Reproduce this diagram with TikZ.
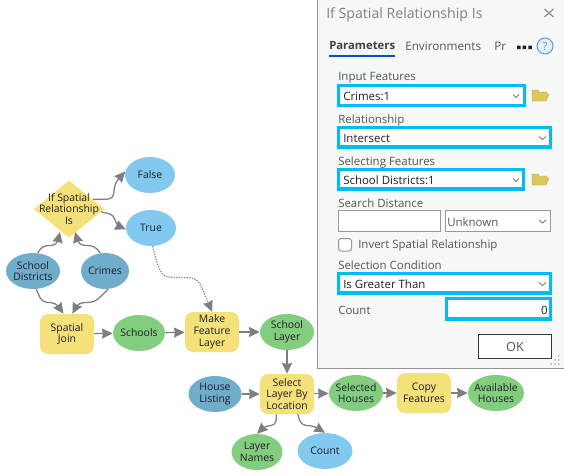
\documentclass[tikz,border=0pt]{standalone}
\usepackage{fontspec}
\setmainfont{Open Sans}
\usepackage{xcolor}
\definecolor{gptool}{RGB}{245,225,122}
\definecolor{gpgreen}{RGB}{131,205,126}
\definecolor{gpsky}{RGB}{130,201,239}
\definecolor{gpsteel}{RGB}{111,173,203}
\definecolor{gpgray}{RGB}{112,112,112}
\definecolor{gpink}{RGB}{30,30,40}
\definecolor{gppanel}{RGB}{246,247,247}
\definecolor{gpframe}{RGB}{0,188,242}
\definecolor{gplabel}{RGB}{85,85,85}
\definecolor{gpfolder}{RGB}{222,198,88}
\definecolor{gphelp}{RGB}{90,160,220}
\usetikzlibrary{arrows.meta,shapes.geometric}
\tikzset{
  modeltext/.style={font=\fontsize{7.8}{8.8}\selectfont, align=center, text=gpink},
  inlabel/.style={label={[modeltext]center:{#1}}},
  toolbox/.style={modeltext, rectangle, rounded corners=6pt, fill=gptool, inner sep=0pt, minimum width=40.5pt, minimum height=30pt},
  dataoval/.style={ellipse, inner sep=0pt, minimum width=#1*0.75pt, minimum height=27pt},
  derived/.style={dataoval=#1, fill=gpgreen},
  paramoval/.style={dataoval=#1, fill=gpsky},
  inputoval/.style={dataoval=#1, fill=gpsteel},
  link/.style={draw=gpgray!90, line width=0.95pt, rounded corners=3.5pt, -{Stealth[length=8pt,width=7.5pt,inset=0.6pt]}},
  paramlabel/.style={font=\fontsize{8.6}{11}\selectfont, text=gplabel, anchor=west, inner sep=0pt},
  paramvalue/.style={font=\fontsize{8.6}{11}\selectfont, text=gpink, anchor=west, inner sep=0pt},
  bluebox/.style={draw=gpframe, line width=2.3pt, fill=white},
  graybox/.style={draw=gray!80, line width=0.75pt, fill=white},
  chevron/.style={draw=gray, line width=0.7pt},
  folder/.style={fill=gpfolder, draw=gpfolder!85!black, line width=0.3pt}
}
\begin{document}
\begin{tikzpicture}[x=0.75pt,y=-0.75pt]
\useasboundingbox (0,0) rectangle (564,475);
% Top of the model
\node[diamond, fill=gptool, inner sep=0pt, minimum width=53pt, minimum height=43pt,
  inlabel={If Spatial\\Relationship\\Is}] (ifrel) at (69,209) {};
\node[paramoval=50, inlabel={False}] (falsenode) at (150,175) {};
\node[paramoval=50, inlabel={True}] (truenode) at (151,228) {};
\node[inputoval=54, inlabel={School\\Districts}] (districts) at (33,271) {};
\node[inputoval=48, inlabel={Crimes}] (crimes) at (105,271) {};
% Middle row
\node[toolbox] (spatjoin) at (67,334) {Spatial\\Join};
\node[derived=52, inlabel={Schools}] (schools) at (139,333) {};
\node[toolbox] (makelayer) at (212,332) {Make\\Feature\\Layer};
\node[derived=54, inlabel={School\\Layer}] (schoollayer) at (287,332) {};
% Bottom row
\node[inputoval=53, inlabel={House\\Listing}] (listing) at (215,394) {};
\node[toolbox] (selectlayer) at (287,394) {Select\\Layer By\\Location};
\node[derived=54, inlabel={Selected\\Houses}] (selected) at (356,393) {};
\node[toolbox] (copyfeat) at (424,393) {Copy\\Features};
\node[derived=56, inlabel={Available\\Houses}] (available) at (496,393) {};
\node[derived=51, inlabel={Layer\\Names}] (layernames) at (257,452) {};
\node[paramoval=55, inlabel={Count}] (countout) at (325,451) {};
% Connectors
\draw[link] (ifrel.22) -- (113,199) -- (115,183) -- (falsenode.172);
\draw[link] (ifrel.-5) -- (114,215) -- (116,225) -- (truenode.183);
\draw[link, densely dotted, line width=0.85pt, rounded corners=5pt] (truenode.-85) -- (157,263) -- (163,277) -- (197,278) -- (203,290) -- (makelayer.north);
\draw[link] (districts.75) -- (42,246) -- (57,245) -- (60,232);
\draw[link] (crimes.105) -- (95,246) -- (79,245) -- (75,232);
\draw[link] (districts.-80) -- (42,302) -- (56,303) -- (spatjoin.100);
\draw[link] (crimes.-80) -- (95,302) -- (78,303) -- (spatjoin.75);
\draw[link] (spatjoin) -- (schools);
\draw[link] (schools) -- (makelayer);
\draw[link] (makelayer) -- (schoollayer);
\draw[link] (schoollayer) -- (selectlayer);
\draw[link] (listing) -- (selectlayer);
\draw[link] (selectlayer) -- (selected);
\draw[link] (selected) -- (copyfeat);
\draw[link] (copyfeat) -- (available);
\draw[link] (selectlayer.-118) -- (276,425) -- (265,426) -- (layernames.north);
\draw[link] (selectlayer.-62) -- (301,425) -- (314,426) -- (countout.north);
% Parameter pane
\node[draw=gray!85, line width=0.75pt, fill=gppanel, anchor=north west, inner sep=0pt, minimum width=187.5pt, minimum height=277pt] (pane) at (317,-1) {};
\node[font=\fontsize{10.6}{12}\selectfont, text=gray, anchor=west, inner sep=0pt] (panetitle) at (326,15) {If Spatial Relationship Is};
\draw[gray!90, line width=0.9pt] (544.5,9) -- (553.5,17) (553.5,9) -- (544.5,17);
% Tabs
\node[font=\fontsize{8.5}{11}\selectfont\bfseries, text=gpink!85, anchor=west, inner sep=0pt] (tabparam) at (329,46) {Parameters};
\draw[blue!60!cyan!80!black, line width=0.8pt] (329,56) -- (395,56);
\node[font=\fontsize{8.8}{11}\selectfont, text=gplabel, anchor=west, inner sep=0pt] (tabenv) at (405,46) {Environments};
\node[font=\fontsize{8.8}{11}\selectfont, text=gplabel, anchor=west, inner sep=0pt] (tabpr) at (494,46) {Pr};
\fill[gpink] (517,45.5) rectangle +(3.5,3.5) (522.7,45.5) rectangle +(3.5,3.5) (528.4,45.5) rectangle +(3.5,3.5);
\node[circle, draw=gphelp, fill=gphelp!15, line width=0.8pt, inner sep=0pt, minimum size=12pt, font=\fontsize{8.5}{9}\selectfont, text=gphelp] (helpicon) at (545,46) {?};
% Fields
\node[paramlabel] (lblinput) at (338,78) {Input Features};
\draw[bluebox] (338.5,85.5) rectangle (524.5,105.5);
\node[paramvalue] (valinput) at (343,96) {Crimes:1};
\draw[chevron] (513,94.5) -- (516,97.5) -- (519,94.5);
\draw[folder] (532,101) -- (532,90) -- (538,90) -- (539,92) -- (547,92) -- (547,94) -- (549,94) -- (546,101) -- cycle;
\node[paramlabel] (lblrel) at (338,120.5) {Relationship};
\draw[bluebox] (338.5,127.5) rectangle (550.5,147);
\node[paramvalue] (valrel) at (343,138) {Intersect};
\draw[chevron] (539,136.5) -- (542.5,139.5) -- (546,136.5);
\node[paramlabel] (lblsel) at (338,162.5) {Selecting Features};
\draw[bluebox] (338.5,169.5) rectangle (523.5,189);
\node[paramvalue] (valsel) at (343,180) {School Districts:1};
\draw[chevron] (513,178.5) -- (516,181.5) -- (519,178.5);
\draw[folder] (532,185) -- (532,174) -- (538,174) -- (539,176) -- (547,176) -- (547,178) -- (549,178) -- (546,185) -- cycle;
\node[paramlabel] (lbldist) at (338,203) {Search Distance};
\draw[graybox] (338.5,210.5) rectangle (440.5,231.5);
\draw[graybox] (445.5,210.5) rectangle (550.5,231.5);
\node[paramvalue, text=gplabel] (valunit) at (447,222) {Unknown};
\draw[chevron] (539,220) -- (542.5,223) -- (546,220);
\draw[graybox, rounded corners=2pt] (338.5,238.5) rectangle (351.5,251);
\node[paramlabel] (lblinvert) at (358,246) {Invert Spatial Relationship};
\node[paramlabel] (lblcond) at (338,265.5) {Selection Condition};
\draw[bluebox] (338.5,273.5) rectangle (550.5,293);
\node[paramvalue] (valcond) at (343,284) {Is Greater Than};
\draw[chevron] (539,282.5) -- (542.5,285.5) -- (546,282.5);
\node[paramlabel] (lblcount) at (338,310) {Count};
\draw[bluebox] (446.5,298.5) rectangle (550.5,319);
\node[paramvalue, anchor=east] (valcount) at (548,310) {0};
\node[draw=gpink!90, line width=0.75pt, fill=white, inner sep=0pt, minimum width=54.5pt, minimum height=18pt, font=\fontsize{9.5}{11}\selectfont, text=gplabel] (okbutton) at (515,346.5) {OK};
% Grip
\fill[gray!60] (558.5,356) circle (1) (555,360) circle (1) (558.5,360) circle (1) (551,364) circle (1) (555,364) circle (1) (558.5,364) circle (1);
\end{tikzpicture}
\end{document}
